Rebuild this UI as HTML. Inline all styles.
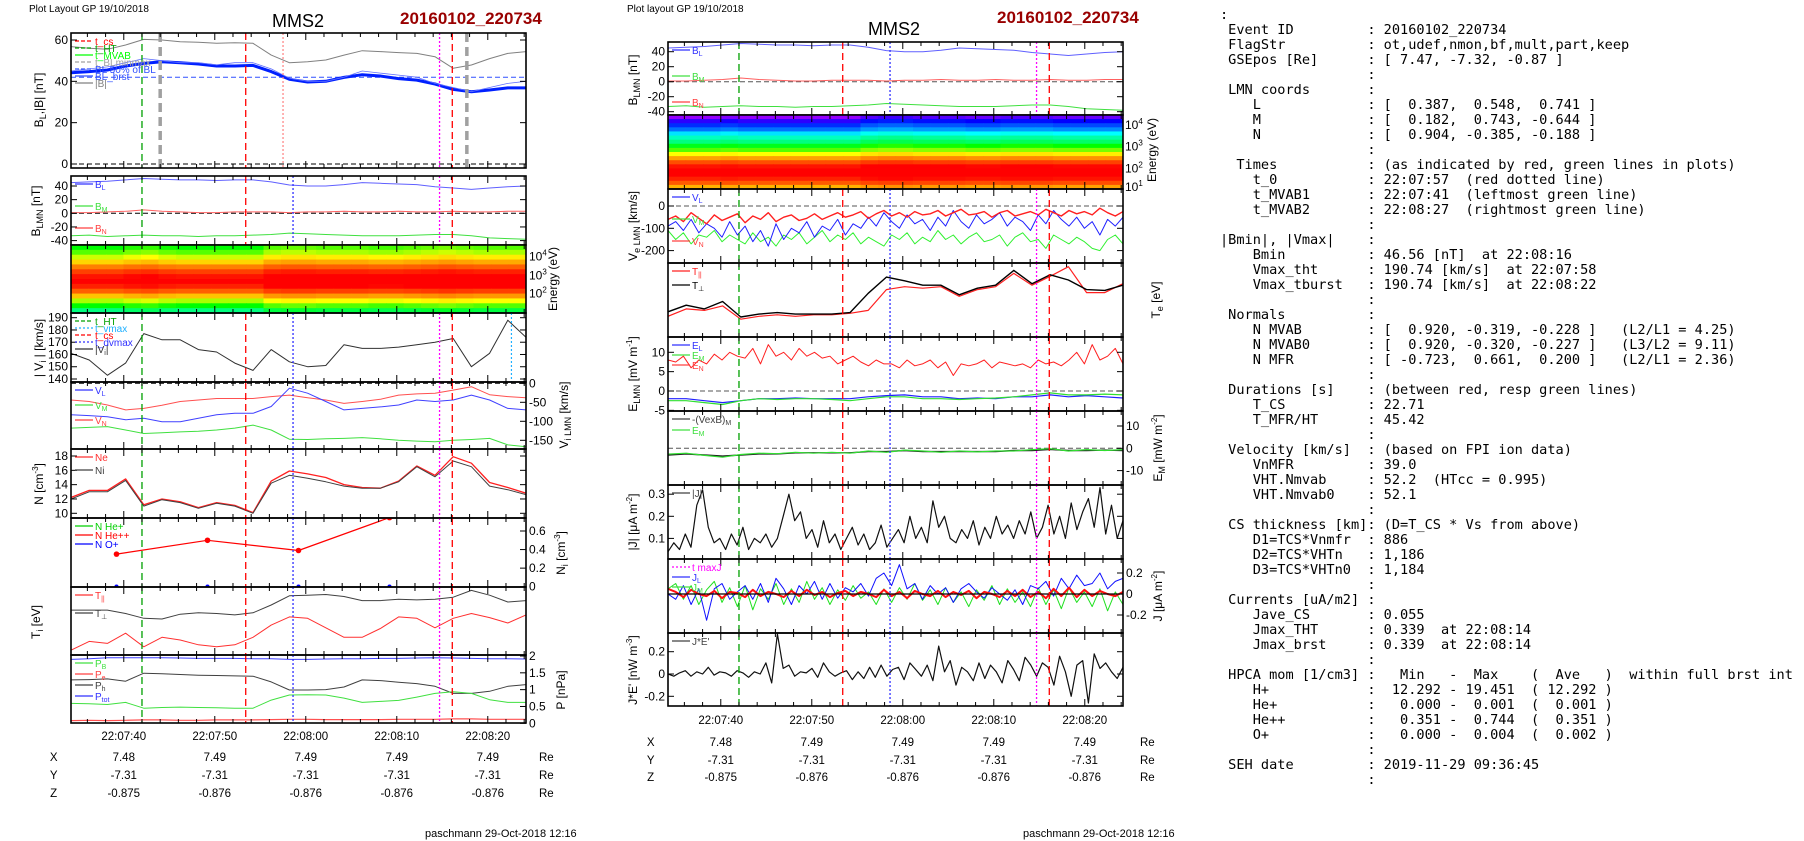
<!DOCTYPE html>
<html><head><meta charset="utf-8">
<style>
html,body{margin:0;padding:0;background:#fff;width:1804px;height:841px;overflow:hidden;position:relative;font-family:"Liberation Sans",sans-serif}
#chart{position:absolute;left:0;top:0}
#info{position:absolute;left:1220px;top:8px;margin:0;font-family:"DejaVu Sans Mono","Liberation Mono",monospace;font-size:13.6px;line-height:15px;color:#000;white-space:pre}
</style></head>
<body>
<svg id="chart" width="1804" height="841" viewBox="0 0 1804 841" xmlns="http://www.w3.org/2000/svg" font-family="Liberation Sans, sans-serif">
<defs id="defs"></defs>
</svg>
<pre id="info">:
 Event ID         : 20160102_220734
 FlagStr          : ot,udef,nmon,bf,mult,part,keep
 GSEpos [Re]      : [ 7.47, -7.32, -0.87 ]
                  :
 LMN coords       :
    L             : [  0.387,  0.548,  0.741 ]
    M             : [  0.182,  0.743, -0.644 ]
    N             : [  0.904, -0.385, -0.188 ]
                  :
  Times           : (as indicated by red, green lines in plots)
    t_0           : 22:07:57  (red dotted line)
    t_MVAB1       : 22:07:41  (leftmost green line)
    t_MVAB2       : 22:08:27  (rightmost green line)
                  :
|Bmin|, |Vmax|    :
    Bmin          : 46.56 [nT]  at 22:08:16
    Vmax_tht      : 190.74 [km/s]  at 22:07:58
    Vmax_tburst   : 190.74 [km/s]  at 22:08:22
                  :
 Normals          :
    N MVAB        : [  0.920, -0.319, -0.228 ]   (L2/L1 = 4.25)
    N MVAB0       : [  0.920, -0.320, -0.227 ]   (L3/L2 = 9.11)
    N MFR         : [ -0.723,  0.661,  0.200 ]   (L2/L1 = 2.36)
                  :
 Durations [s]    : (between red, resp green lines)
    T_CS          : 22.71
    T_MFR/HT      : 45.42
                  :
 Velocity [km/s]  : (based on FPI ion data)
    VnMFR         : 39.0
    VHT.Nmvab     : 52.2  (HTcc = 0.995)
    VHT.Nmvab0    : 52.1
                  :
 CS thickness [km]: (D=T_CS * Vs from above)
    D1=TCS*Vnmfr  : 886
    D2=TCS*VHTn   : 1,186
    D3=TCS*VHTn0  : 1,184
                  :
 Currents [uA/m2] :
    Jave_CS       : 0.055
    Jmax_THT      : 0.339  at 22:08:14
    Jmax_brst     : 0.339  at 22:08:14
                  :
 HPCA mom [1/cm3] :   Min   -  Max    (  Ave   )  within full brst int
    H+            :  12.292 - 19.451  ( 12.292 )
    He+           :   0.000 -  0.001  (  0.001 )
    He++          :   0.351 -  0.744  (  0.351 )
    O+            :   0.000 -  0.004  (  0.002 )
                  :
 SEH date         : 2019-11-29 09:36:45
                  :</pre>
<script>
// ---------- data (2 s cadence, 26 points, t=0 at 22:07:34.2) ----------
const tickLabels = ["22:07:40","22:07:50","22:08:00","22:08:10","22:08:20"];
const posX = ["7.48","7.49","7.49","7.49","7.49"];
const posY = ["-7.31","-7.31","-7.31","-7.31","-7.31"];
const posZ = ["-0.875","-0.876","-0.876","-0.876","-0.876"];
const absB = [56.8,56,55.5,57.6,60.3,60,59.2,58.9,58.4,58.7,58.4,52.7,49,49.5,50.3,52.7,54.8,54.4,53.9,53.5,51.9,46.3,47.9,51,53.5,54.4];
const blSmooth = [44.2,44.7,45.5,47.4,48.7,49.5,49,48.4,47.4,47.4,47.7,44.7,41,39.7,40,41.9,43.2,42.6,41.3,40.6,38.7,36.1,35,35.8,36.8,36.8];
const bL = [45,46,47,49,51,50,49,49,48,49,49,46,41.5,40,40,42,45,44,43,42,39,37,35,37,39,40];
const bM = [1,1,2,3,5,3,2,1,1,2,2,2,1,2,2,3,2,2,3,2,2,3,2,2,3,3];
const bN = [-33,-32,-34,-33,-32,-33,-33,-34,-33,-33,-32,-31,-29,-30,-31,-32,-33,-33,-33,-32,-31,-31,-33,-36,-37,-38];
const vMag = [161,155.5,143,153,177,172,172,164,162,153,147,164,154,150,151,168,165,165,166,168,170,173,150,161,188,174];
const viN = [-44,-48,-57,-70,-66,-58,-48,-44,-40,-40,-40,-35,-31,-38,-44,-53,-48,-42,-31,-28,-26,-18,-9,-30,-35,-38];
const viL = [-83,-85,-88,-96,-92,-101,-101,-92,-83,-79,-79,-61,-13,-26,-48,-70,-66,-62,-57,-44,-48,-44,-31,-44,-66,-70];
const viM = [-118,-116,-114,-123,-132,-130,-128,-126,-123,-118,-110,-123,-147,-148,-146,-145,-143,-146,-150,-152,-154,-150,-148,-145,-162,-167];
const nI = [12,13,13,14.6,11,11.9,11.5,10.7,11.4,11,10,14.2,15.3,14.9,14.4,13.8,13.5,13.5,14.4,16.5,15.1,17.3,16.5,13.8,13.3,12.6];
const nE = [12.2,13.2,13.2,14.8,11.2,12,11.6,10.8,11.5,11.1,10.1,14.5,15.9,15.5,15,14,13.6,13.5,14.5,16.6,15.3,17.9,17,14.3,13.6,12.8];
const heTimes = [5,15,25,35];
const hePP = [0.351,0.50,0.39,0.744];
const oPlus = [0.002,0.002,0.002,0.002];
const tiPerp = [66,66,66,61,54,53,60,62,61,59,62,73.5,87,88,89,86,80,80,82,81,82,85,95,88,78,80];
const tiPar = [7,20,17,32,12,26,22,15,12,15,26,44,56,54,40,26,26,39,56,54,40,54,61,55,47,59];
const pTot = [1.9,1.92,1.95,1.95,1.95,1.95,1.94,1.93,1.93,1.93,1.92,1.92,1.9,1.9,1.91,1.92,1.92,1.93,1.93,1.94,1.95,1.94,1.93,1.92,1.92,1.91];
const pTh = [1.29,1.3,1.32,1.25,1.49,1.47,1.45,1.43,1.42,1.41,1.4,1.23,0.99,0.99,1.0,1.08,1.29,1.27,1.22,1.18,1.1,0.89,0.89,0.95,1.1,1.15];
const pB = [0.59,0.58,0.56,0.62,0.45,0.47,0.48,0.47,0.46,0.45,0.45,0.69,0.84,0.85,0.84,0.75,0.62,0.65,0.68,0.78,0.89,0.94,0.89,0.7,0.62,0.62];
const pN = [0.08,0.09,0.08,0.09,0.1,0.1,0.09,0.09,0.1,0.1,0.1,0.11,0.12,0.12,0.11,0.11,0.11,0.11,0.12,0.12,0.12,0.13,0.13,0.12,0.12,0.12];
const ionProfile = [0.50,0.55,0.62,0.70,0.80,0.90,0.97,1.0,0.95,0.85,0.72,0.60,0.50,0.40];
const ionMod = [0,0,0,0.02,0.03,0.01,0,0,0,0,0,0.05,0.06,0.06,0.05,0.05,0.05,0.04,0.04,0.05,0.06,0.07,0.06,0.05,0.05,0.05];
const eleProfile = [0.05,0.1,0.15,0.2,0.28,0.35,0.4,0.48,0.55,0.65,0.76,0.88,0.97,1.0,1.0,0.95,0.86,0.74];
const eleMod = [0,0,0,0.01,0,0,0,0,0,0,0,0.03,0.04,0.04,0.03,0.03,0.03,0.02,0.02,0.03,0.03,0.03,0.02,0.02,0.02,0.02];
const veN = [-60,-45,-70,-30,-55,-80,-40,-65,-50,-35,-75,-45,-60,-30,-70,-50,-40,-65,-55,-35,-60,-45,-30,-50,-40,-25,-55,-35,-20,-45,-30,-50,-25,-40,-35,-20,-45,-30,-15,-40,-35,-25,-50,-30,-20,-45,-35,-25,-40,-15,-30,-45,-20,-35,-25,-40,-10,-30,-45,-25];
const veL = [-90,-70,-110,-60,-120,-80,-100,-140,-70,-130,-90,-160,-110,-180,-80,-150,-100,-120,-70,-140,-90,-110,-60,-130,-80,-100,-50,-90,-30,-70,-100,-40,-80,-60,-110,-50,-90,-20,-70,-100,-40,-80,-60,-30,-90,-50,-70,-110,-40,-80,-20,-60,-90,-50,-100,-70,-130,-60,-90,-50];
const veM = [-110,-150,-120,-170,-130,-140,-110,-160,-130,-150,-170,-120,-160,-140,-180,-130,-150,-120,-170,-140,-110,-160,-130,-150,-120,-170,-140,-160,-180,-130,-150,-120,-170,-140,-160,-110,-150,-130,-170,-140,-120,-160,-150,-130,-180,-140,-120,-160,-150,-190,-130,-150,-170,-140,-160,-190,-200,-150,-130,-170];
const tePerp = [34,43,38,48,27,31,33,31,31,31,33,59,81,76,70,70,57,66,70,90,72,84,77,64,63,70];
const tePar = [28,38,36,42,24,28,30,28,30,30,32,36,64,68,66,68,55,64,68,86,70,82,95,60,60,72];
const eN = [8,7.5,9,6,8,7,9.5,8,10,9,8.5,11,7,12,9,10,8,11,9,10,8.5,9,7,8,9,7.5,6.5,8,7,7,6,8,6.5,7,8,6,7.5,4,7,6.5,7,8,6,7.5,7,6.5,7,6,8,7,7.5,6.5,8,10,7,12,8,9,11,7];
const eL = [-2,-2,-2.5,-3,-2.5,-2,-2,-1.8,-2,-2,-2,-1.5,-1.2,-1,-1.5,-1.5,-2,-1.8,-2,-1.5,-1.5,-1,-1.5,-1.2,-1.5,-1.8];
const eM = [-2.5,-2.5,-3,-3.5,-2.5,-2,-2.2,-2,-2,-2.2,-2.5,-2,-1.5,-1.5,-2,-2,-2.2,-2,-1.8,-1.5,-1,-0.5,-1,-1,-0.8,-1];
const vexbM = [-3,-2.5,-3,-3.5,-3,-2.5,-2.5,-2,-2,-2,-2,-1.5,-1.5,-1,-1.5,-1.5,-1.5,-1.5,-1.5,-1,-1,-0.5,-1,-1,-0.8,-1];
const eMcmp = [-2.6,-2.2,-3.2,-4,-2.8,-2.2,-2.4,-1.8,-2.2,-1.8,-2.2,-1.2,-1.8,-0.8,-1.2,-1.8,-1.2,-1.6,-1.2,-1.2,-0.6,-0.2,-1.2,-0.6,-1,-0.6];
const jMag = [0.04,0.08,0.05,0.12,0.06,0.25,0.32,0.15,0.08,0.1,0.05,0.12,0.07,0.15,0.05,0.1,0.08,0.12,0.06,0.1,0.2,0.3,0.18,0.22,0.1,0.14,0.06,0.18,0.08,0.12,0.05,0.1,0.15,0.07,0.12,0.05,0.08,0.16,0.06,0.1,0.14,0.08,0.2,0.1,0.15,0.08,0.27,0.15,0.2,0.1,0.08,0.14,0.1,0.18,0.07,0.15,0.1,0.2,0.12,0.16,0.1,0.18,0.12,0.22,0.1,0.15,0.25,0.12,0.2,0.1,0.26,0.14,0.22,0.28,0.15,0.33,0.12,0.25,0.1,0.18];
const jL = [0,-0.05,0.08,-0.1,0.05,-0.25,0.05,0.1,-0.05,0.02,0.08,-0.05,0.1,-0.08,0.15,0.05,-0.1,0.08,0,0.12,-0.05,0.1,-0.04,0.06,0.02,0.1,-0.02,0.15,0.2,0.08,0.28,0.05,0.1,-0.05,0.08,0,0.06,-0.08,0.05,0.1,0.02,-0.04,0.06,0,-0.06,0.04,-0.1,0.08,0.05,0.12,-0.02,0.15,0.05,0.18,0.08,0.1,0.2,0.05,0.12,0.15];
const jM = [0.05,0.1,-0.05,0.08,-0.1,0.04,0.12,-0.08,0.06,-0.12,0.08,-0.15,0.05,-0.05,0.1,-0.1,0.05,-0.08,0.12,-0.05,0.06,-0.1,0.04,-0.06,0.08,-0.04,0.02,-0.1,0.05,-0.08,0.06,-0.05,0.1,-0.06,0.04,-0.1,0.06,-0.08,0.02,-0.12,0.04,-0.06,0.08,-0.1,0.05,-0.08,0.02,-0.12,0.06,-0.1,0.04,-0.14,0.06,-0.08,0.02,-0.12,0.05,-0.16,0.02,-0.1];
const jN = [0.05,0.02,-0.03,0.04,0,-0.02,0.03,-0.04,0.02,0.01,-0.03,0.04,-0.02,0.02,0,-0.03,0.03,-0.02,0.04,-0.01,0.02,-0.03,0.01,0.03,-0.02,0.02,0,-0.03,0.04,-0.02,0.02,-0.04,0.03,0,-0.02,0.03,-0.03,0.02,-0.01,0.03,-0.04,0.02,0,-0.03,0.03,-0.02,0.04,-0.03,0.02,-0.04,0.05,-0.02,0.06,-0.03,0.04,-0.02,0.03,0,-0.02,0.02];
const jDotE = [0,-0.02,0.01,0.03,-0.02,0.02,0,0.06,-0.01,0.02,0.01,-0.02,0.03,0.01,-0.03,0.02,0,0.1,-0.08,0.36,0.05,0.08,-0.02,0.02,0.01,0.05,-0.03,0.1,0.02,-0.02,0.01,0.03,-0.05,0.02,-0.04,0.06,-0.03,0.08,-0.02,0.04,0.06,-0.05,0.1,0.04,-0.02,0.08,-0.06,0.25,0.02,0.12,-0.1,0.06,0.02,-0.06,0.1,-0.04,0.08,0.02,-0.08,0.12,0.04,-0.06,0.15,0.08,-0.02,0.1,0.06,-0.1,0.16,0.02,-0.2,0.08,0.12,-0.26,0.18,0.05,0.1,0.02,-0.04,0.06];
const eventTimes = {green:7.8, red1:19.2, red2:41.9, gray1:9.8, gray2:43.5, pink:23.3, blue:24.4, magenta:40.5, cyan:48.4};

// ---------- helpers ----------
const NS='http://www.w3.org/2000/svg';
const svg=document.getElementById('chart');
const defs=document.getElementById('defs');
const X0=[71,668], SPAN=50, PXS=9.1;
function tx(side,t){return X0[side]+t*PXS;}
function mk(tag,attrs,name,parent){
  const e=document.createElementNS(NS,tag);
  for(const k in attrs)e.setAttribute(k,attrs[k]);
  
  
  (parent||svg).appendChild(e);return e;
}
function txt(x,y,s,name,opt){
  opt=opt||{};
  const e=mk('text',{x:x,y:y,'font-size':opt.size||12,'text-anchor':opt.anchor||'start',fill:opt.fill||'#000','font-weight':opt.weight||'normal'},name,opt.parent);
  if(opt.rot)e.setAttribute('transform','rotate(-90 '+x+' '+y+')');
  e.innerHTML=s;return e;
}
function lin(v0,y0,v1,y1){return v=>y0+(v-v0)*(y1-y0)/(v1-v0);}
let clipN=0;
function panel(side,y0,y1,yf,name){
  const id='clip'+(clipN++);
  const cp=mk('clipPath',{id:id},name+'-clip',defs);
  mk('rect',{x:X0[side],y:y0,width:455,height:y1-y0},name+'-clip-rect',cp);
  const g=mk('g',{'clip-path':'url(#'+id+')'},name+'-data');
  return {side,y0,y1,yf,name,g};
}
function series(p,arr,color,w,name,times){
  const n=arr.length;let d='';
  for(let i=0;i<n;i++){const t=times?times[i]:i*SPAN/(n-1);d+=(i?'L':'M')+tx(p.side,t).toFixed(1)+' '+p.yf(arr[i]).toFixed(1);}
  return mk('path',{d:d,fill:'none',stroke:color,'stroke-width':w||1,'stroke-linejoin':'round'},name,p.g);
}
function hline(p,v,color,dash,name,w){
  const y=p.yf(v);
  mk('line',{x1:X0[p.side],x2:X0[p.side]+455,y1:y,y2:y,stroke:color,'stroke-width':w||1,'stroke-dasharray':dash||'none'},name,p.g);
}
function frame(p,leftTicks,rightTicks){
  const x0=X0[p.side],x1=x0+455;
  for(let k=0;k<25;k++){
    const t=1.8+2*k;const major=((k-2)%5===0);const x=tx(p.side,t);const L=major?7:4;
    mk('line',{x1:x,x2:x,y1:p.y0,y2:p.y0+L,stroke:'#000','stroke-width':1},p.name+'-tick-top',null);
    mk('line',{x1:x,x2:x,y1:p.y1,y2:p.y1-L,stroke:'#000','stroke-width':1},p.name+'-tick-bottom',null);
  }
  (leftTicks||[]).forEach(v=>{const y=p.yf(v);
    mk('line',{x1:x0,x2:x0+6,y1:y,y2:y,stroke:'#000'},p.name+'-ytick',null);
    mk('line',{x1:x1,x2:x1-6,y1:y,y2:y,stroke:'#000'},p.name+'-ytick-r',null);
    txt(x0-3,y+4,String(v),p.name+'-ytick-label',{anchor:'end',size:12});});
  (rightTicks||[]).forEach(v=>{const y=p.yf(v);
    mk('line',{x1:x1,x2:x1-6,y1:y,y2:y,stroke:'#000'},p.name+'-ytick-r',null);
    txt(x1+3,y+4,String(v),p.name+'-ytick-label-r',{size:12});});
  mk('rect',{x:x0,y:p.y0,width:455,height:p.y1-p.y0,fill:'none',stroke:'#000','stroke-width':1.6},p.name+'-frame',null);
}
function vline(p,t,color,dash,w,name){
  const x=tx(p.side,t);
  mk('line',{x1:x,x2:x,y1:p.y0,y2:p.y1,stroke:color,'stroke-width':w||1.2,'stroke-dasharray':dash},name,p.g);
}
function events(p,extra){
  vline(p,eventTimes.green,'#00a000','7 4',1.3,'event-line-mvab');
  vline(p,eventTimes.red1,'#ff0000','7 4',1.3,'event-line-cs-start');
  vline(p,eventTimes.red2,'#ff0000','7 4',1.3,'event-line-cs-end');
  vline(p,eventTimes.magenta,'#ff00ff','2 2',1.3,'event-line-maxj');
  if(extra!=='noblue')vline(p,eventTimes.blue,'#3030ff','2 2',1.3,'event-line-dvmax');
}
function cmap(v){
  const st=[[0,[255,0,255]],[0.12,[0,0,255]],[0.3,[0,255,255]],[0.5,[0,255,0]],[0.65,[255,255,0]],[0.8,[255,128,0]],[1,[255,0,0]]];
  v=Math.max(0,Math.min(1,v));
  for(let i=1;i<st.length;i++){if(v<=st[i][0]){const a=st[i-1],b=st[i];const f=(v-a[0])/(b[0]-a[0]);
    return 'rgb('+a[1].map((c,j)=>Math.round(c+(b[1][j]-c)*f)).join(',')+')';}}
  return 'rgb(255,0,0)';
}
function spectro(p,profile,mod,name){
  const rows=profile.length,cols=mod.length,cw=455/cols,rh=(p.y1-p.y0)/rows;
  for(let r=0;r<rows;r++)for(let c=0;c<cols;c++){
    mk('rect',{x:(X0[p.side]+c*cw).toFixed(2),y:(p.y0+r*rh).toFixed(2),width:(cw+0.6).toFixed(2),height:(rh+0.6).toFixed(2),fill:cmap(profile[r]+mod[c])},name+'-cell',p.g);
  }
}
function legend(p,items,dy){
  const x=X0[p.side]+4;
  items.forEach((it,i)=>{const y=p.y0+8+i*(dy||11);
    mk('line',{x1:x,x2:x+18,y1:y,y2:y,stroke:it[1],'stroke-width':1.2,'stroke-dasharray':it[2]||'none'},'legend-swatch',null);
    txt(x+20,y+4,it[0],'legend-entry',{size:10,fill:it[1]});});
}
function ylab(x,y,s,name){txt(x,y,s,name,{anchor:'middle',size:12,rot:true});}

// ---------- titles ----------
txt(29,12,'Plot Layout GP 19/10/2018','left-layout-note',{size:10});
txt(298,27,'MMS2','left-title',{size:18,anchor:'middle'});
txt(400,24,'20160102_220734','left-event-id',{size:17,weight:'bold',fill:'#990000'});
txt(627,12,'Plot layout GP 19/10/2018','right-layout-note',{size:10});
txt(894,35,'MMS2','right-title',{size:18,anchor:'middle'});
txt(997,23,'20160102_220734','right-event-id',{size:17,weight:'bold',fill:'#990000'});

// ---------- LEFT PLOT ----------
let p=panel(0,33,168,lin(0,164,60,40),'b-total-panel');
hline(p,0,'#000','5 3','zero-line');hline(p,42,'#3050ff','5 3','bl-50pct-line');
series(p,absB,'#808080',1,'b-magnitude-line');
series(p,blSmooth,'#0020ff',3,'bl-smooth-line');
series(p,bL,'#6070ff',0.8,'bl-brst-line');
vline(p,eventTimes.gray1,'#a0a0a0','9 5',3.5,'bl-min-line');vline(p,eventTimes.gray2,'#a0a0a0','9 5',3.5,'bl-max-line');
vline(p,eventTimes.pink,'#ff8080','2 2',1.2,'t0-line');
events(p,'noblue');frame(p,[60,40,20,0]);
legend(p,[['t_cs','#ff0000','4 2'],['t_HT','#00a000','4 2'],['t_MVAB','#00ff00'],['t_BLminmax','#a0a0a0','4 2'],['BL 50% of BL','#3050ff','4 2'],['BL_brst','#3050ff'],['|B|','#808080']],7);
ylab(43,100,'B<tspan font-size="9" dy="3">L</tspan><tspan dy="-3">,|B| [nT]</tspan>','b-total-y-title');

p=panel(0,176,245,lin(0,213.3,40,186),'blmn-panel');
hline(p,0,'#000','5 3','zero-line');
series(p,bL,'#6060ff',1,'bl-line');series(p,bM,'#ff6060',1,'bm-line');series(p,bN,'#40e040',1,'bn-line');
events(p);frame(p,[40,20,0,-20,-40]);
legend(p,[['B<tspan font-size="7" dy="2">L</tspan>','#3030ff'],['B<tspan font-size="7" dy="2">M</tspan>','#40e040'],['B<tspan font-size="7" dy="2">N</tspan>','#ff4040']],22);
ylab(40,211,'B<tspan font-size="9" dy="3">LMN</tspan><tspan dy="-3"> [nT]</tspan>','blmn-y-title');

p=panel(0,245,313,v=>v,'ion-spectrogram-panel');
spectro(p,ionProfile,ionMod,'ion-spectrogram');frame(p);
[['10<tspan font-size="8" dy="-5">4</tspan>',256.7],['10<tspan font-size="8" dy="-5">3</tspan>',275.3],['10<tspan font-size="8" dy="-5">2</tspan>',293.3]].forEach(a=>txt(529,a[1]+4,a[0],'energy-tick-label',{size:12}));
ylab(557,279,'Energy (eV)','ion-energy-y-title');

p=panel(0,313,382,lin(140,379,190,317.7),'vi-mag-panel');
series(p,vMag,'#303030',1,'vi-magnitude-line');
events(p);vline(p,eventTimes.cyan,'#20b0ff','2 2',1.2,'t-vmax-line');frame(p,[190,180,170,160,150,140]);
legend(p,[['t_HT','#00a000','4 2'],['t_vmax','#20b0ff','2 2'],['t_cs','#ff0000','4 2'],['t_dvmax','#3030ff','2 2'],['|V<tspan font-size="7" dy="2">i</tspan><tspan dy="-2">|</tspan>','#303030']],7);
ylab(43,348,'| V<tspan font-size="9" dy="3">i</tspan><tspan dy="-3"> | [km/s]</tspan>','vi-mag-y-title');

p=panel(0,382,449,lin(0,383.3,-50,402.3),'vi-lmn-panel');
hline(p,0,'#000','5 3','zero-line');
series(p,viN,'#ff5050',1,'vi-n-line');series(p,viL,'#4040ff',1,'vi-l-line');series(p,viM,'#40e040',1,'vi-m-line');
events(p);frame(p,[],[0,-50,-100,-150]);
legend(p,[['V<tspan font-size="7" dy="2">L</tspan>','#3030ff'],['V<tspan font-size="7" dy="2">M</tspan>','#40e040'],['V<tspan font-size="7" dy="2">N</tspan>','#ff4040']],15);
ylab(568,415,'V<tspan font-size="9" dy="3">i LMN</tspan><tspan dy="-3"> [km/s]</tspan>','vi-lmn-y-title');

p=panel(0,449,518,lin(10,513.3,18,456),'density-panel');
series(p,nE,'#ff2020',1.3,'ne-line');series(p,nI,'#404040',1,'ni-line');
events(p);frame(p,[18,16,14,12,10]);
legend(p,[['Ne','#ff3030'],['Ni','#404040']],13);
ylab(43,484,'N [cm<tspan font-size="8" dy="-5">-3</tspan><tspan dy="5">]</tspan>','density-y-title');

p=panel(0,518,587,lin(0,586.7,0.6,531),'hpca-panel');
series(p,hePP,'#ff0000',1.2,'he-pp-line',heTimes);
heTimes.forEach((t,i)=>{mk('circle',{cx:tx(0,t),cy:p.yf(hePP[i]),r:2.8,fill:'#ff0000'},'he-pp-point',p.g);
  mk('circle',{cx:tx(0,t),cy:p.yf(oPlus[i]),r:2,fill:'#0000ff'},'o-plus-point',p.g);});
events(p);frame(p,[],[0.6,0.4,0.2,0.0]);
legend(p,[['N  He+','#00d000'],['N  He++','#ff0000'],['N  O+','#0000ff']],9);
ylab(565,553,'N<tspan font-size="9" dy="3">i</tspan><tspan dy="-3"> [cm</tspan><tspan font-size="8" dy="-5">-3</tspan><tspan dy="5">]</tspan>','hpca-y-title');

p=panel(0,587,655,lin(0,655,100,587),'ti-panel');
series(p,tiPerp,'#404040',1,'ti-perp-line');series(p,tiPar,'#ff3030',1,'ti-par-line');
events(p);frame(p);
legend(p,[['T<tspan font-size="7" dy="2">||</tspan>','#ff3030'],['T<tspan font-size="7" dy="2">⊥</tspan>','#404040']],18);
ylab(40,622,'T<tspan font-size="9" dy="3">i</tspan><tspan dy="-3"> [eV]</tspan>','ti-y-title');

p=panel(0,655,723,lin(0,723.3,2,656),'pressure-panel');
series(p,pTot,'#4040ff',1,'p-total-line');series(p,pTh,'#404040',1,'p-thermal-line');series(p,pB,'#40e040',1,'p-b-line');series(p,pN,'#ff5050',1.2,'p-n-line');
events(p);frame(p,[],[2,1.5,1,0.5,0]);
legend(p,[['P<tspan font-size="7" dy="2">B</tspan>','#40e040'],['P<tspan font-size="7" dy="2">e</tspan>','#ff4040'],['P<tspan font-size="7" dy="2">h</tspan>','#404040'],['P<tspan font-size="7" dy="2">tot</tspan>','#3030ff']],11);
ylab(565,690,'P [nPa]','pressure-y-title');

// ---------- RIGHT PLOT ----------
p=panel(1,42,115,lin(0,81.7,40,51.7),'r-blmn-panel');
hline(p,0,'#555','5 3','zero-line');
series(p,bL,'#6060ff',1,'r-bl-line');series(p,bM,'#ff6060',1,'r-bm-line');series(p,bN,'#40e040',1,'r-bn-line');
events(p);frame(p,[40,20,0,-20,-40]);
legend(p,[['B<tspan font-size="7" dy="2">L</tspan>','#3030ff'],['B<tspan font-size="7" dy="2">M</tspan>','#40e040'],['B<tspan font-size="7" dy="2">N</tspan>','#ff4040']],26);
ylab(637,80,'B<tspan font-size="9" dy="3">LMN</tspan><tspan dy="-3"> [nT]</tspan>','r-blmn-y-title');

p=panel(1,115,189,v=>v,'electron-spectrogram-panel');
spectro(p,eleProfile,eleMod,'electron-spectrogram');frame(p);
[['10<tspan font-size="8" dy="-5">4</tspan>',125],['10<tspan font-size="8" dy="-5">3</tspan>',146.7],['10<tspan font-size="8" dy="-5">2</tspan>',168.3],['10<tspan font-size="8" dy="-5">1</tspan>',187]].forEach(a=>txt(1125,a[1]+4,a[0],'energy-tick-label',{size:12}));
ylab(1156,150,'Energy (eV)','electron-energy-y-title');

p=panel(1,189,263,lin(0,206,-100,228.3),'ve-lmn-panel');
hline(p,0,'#555','5 3','zero-line');
series(p,veM,'#30f030',1,'ve-m-line');series(p,veL,'#2020ff',1,'ve-l-line');series(p,veN,'#ff2020',1.4,'ve-n-line');
events(p);frame(p,[0,-100,-200]);
legend(p,[['V<tspan font-size="7" dy="2">L</tspan>','#3030ff'],['V<tspan font-size="7" dy="2">M</tspan>','#40e040'],['V<tspan font-size="7" dy="2">N</tspan>','#ff4040']],22);
ylab(637,226,'V<tspan font-size="9" dy="3">e LMN</tspan><tspan dy="-3"> [km/s]</tspan>','ve-lmn-y-title');

p=panel(1,263,337,lin(0,337,100,263),'te-panel');
series(p,tePar,'#ff2020',1.2,'te-par-line');series(p,tePerp,'#000',1.4,'te-perp-line');
events(p);frame(p);
legend(p,[['T<tspan font-size="7" dy="2">||</tspan>','#ff2020'],['T<tspan font-size="7" dy="2">⊥</tspan>','#000']],14);
ylab(1160,300,'T<tspan font-size="9" dy="3">e</tspan><tspan dy="-3"> [eV]</tspan>','te-y-title');

p=panel(1,337,411,lin(0,391,10,352.3),'e-lmn-panel');
hline(p,0,'#555','5 3','zero-line');
series(p,eN,'#ff2020',1,'e-n-line');series(p,eL,'#2020ff',1.2,'e-l-line');series(p,eM,'#30e030',1.2,'e-m-line');
events(p);frame(p,[10,5,0,-5]);
legend(p,[['E<tspan font-size="7" dy="2">L</tspan>','#3030ff'],['E<tspan font-size="7" dy="2">M</tspan>','#40e040'],['E<tspan font-size="7" dy="2">N</tspan>','#ff4040']],10);
ylab(637,374,'E<tspan font-size="9" dy="3">LMN</tspan><tspan dy="-3"> [mV m</tspan><tspan font-size="8" dy="-5">-1</tspan><tspan dy="5">]</tspan>','e-lmn-y-title');

p=panel(1,411,485,lin(0,448.3,10,426),'vexb-panel');
hline(p,0,'#555','5 3','zero-line');
series(p,vexbM,'#202020',1.4,'vexb-m-line');series(p,eMcmp,'#30e030',1.2,'em-line');
events(p);frame(p,[],[10,0,-10]);
legend(p,[['-(VexB)<tspan font-size="7" dy="2">M</tspan>','#404040'],['E<tspan font-size="7" dy="2">M</tspan>','#40e040']],11);
ylab(1162,448,'E<tspan font-size="9" dy="3">M</tspan><tspan dy="-3"> [mW m</tspan><tspan font-size="8" dy="-5">-2</tspan><tspan dy="5">]</tspan>','vexb-y-title');

p=panel(1,485,559,lin(0,560.5,0.1,538.4),'j-mag-panel');
series(p,jMag,'#101010',1.2,'j-magnitude-line');
events(p);frame(p,[0.3,0.2,0.1]);
legend(p,[['|J|','#404040']],10);
ylab(637,522,'|J| [μA m<tspan font-size="8" dy="-5">-2</tspan><tspan dy="5">]</tspan>','j-mag-y-title');

p=panel(1,559,633,lin(0,594,0.2,573),'j-lmn-panel');
series(p,jM,'#20e020',1,'j-m-line');series(p,jL,'#1010ff',1,'j-l-line');series(p,jN,'#ff1010',2,'j-n-line');
hline(p,0,'#000','none','zero-line',1.2);
events(p);frame(p,[],[0.2,0,-0.2]);
legend(p,[['t  maxJ','#ff00ff','2 2'],['J<tspan font-size="7" dy="2">L</tspan>','#3030ff'],['J<tspan font-size="7" dy="2">M</tspan>','#40e040']],10);
ylab(1162,596,'J [μA m<tspan font-size="8" dy="-5">-2</tspan><tspan dy="5">]</tspan>','j-lmn-y-title');

p=panel(1,633,706,lin(0,674,0.2,651.7),'jdote-panel');
series(p,jDotE,'#101010',1.2,'j-dot-e-line');
events(p);frame(p,[0.2,0,-0.2]);
legend(p,[["J*E'",'#404040']],10);
ylab(637,670,"J*E' [nW m<tspan font-size='8' dy='-5'>-3</tspan><tspan dy='5'>]</tspan>",'jdote-y-title');

// ---------- time axis & position rows ----------
[[0,740,761,779,797,53.7,539],[1,724,746,764,781,650.7,1140]].forEach(r=>{
  const side=r[0];
  tickLabels.forEach((s,i)=>{const x=tx(side,5.8+10*i);
    txt(x,r[1],s,'time-tick-label',{anchor:'middle',size:11.5});
    txt(x,r[2],posX[i],'pos-x-value',{anchor:'middle',size:11.5});
    txt(x,r[3],posY[i],'pos-y-value',{anchor:'middle',size:11.5});
    txt(x,r[4],posZ[i],'pos-z-value',{anchor:'middle',size:11.5});});
  txt(r[5],r[2],'X','pos-x-label',{anchor:'middle',size:11.5});
  txt(r[5],r[3],'Y','pos-y-label',{anchor:'middle',size:11.5});
  txt(r[5],r[4],'Z','pos-z-label',{anchor:'middle',size:11.5});
  txt(r[6],r[2],'Re','pos-x-unit',{size:11.5});txt(r[6],r[3],'Re','pos-y-unit',{size:11.5});txt(r[6],r[4],'Re','pos-z-unit',{size:11.5});
});
txt(425,837,'paschmann 29-Oct-2018 12:16','left-footer',{size:11});
txt(1023,837,'paschmann 29-Oct-2018 12:16','right-footer',{size:11});
</script>
</body></html>
